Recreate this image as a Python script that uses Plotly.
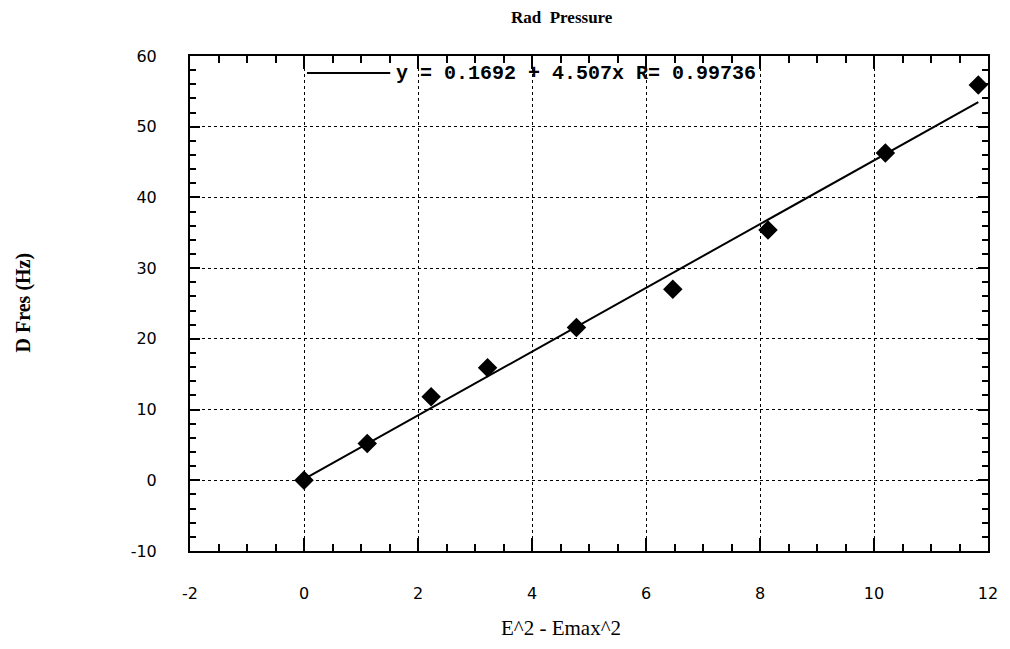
import plotly.graph_objects as go

x_vals = [0.0, 1.11, 2.23, 3.22, 4.78, 6.47, 8.14, 10.2, 11.83]
y_vals = [0.0, 5.2, 11.8, 15.9, 21.6, 27.0, 35.4, 46.3, 55.9]
intercept = 0.1692
slope = 4.507
r_value = 0.99736

x_tick_vals = [-2, 0, 2, 4, 6, 8, 10, 12]
x_tick_text = ["-2", "0", "2", "4", "6", "8", "10", "12"]
y_tick_vals = [-10, 0, 10, 20, 30, 40, 50, 60]
y_tick_text = ["-10", "0", "10", "20", "30", "40", "50", "60"]

fit_x = [min(x_vals), max(x_vals)]
fit_y = [intercept + slope * v for v in fit_x]

fig = go.Figure()
fig.add_trace(go.Scatter(x=fit_x, y=fit_y, mode="lines",
                         line=dict(color="black", width=2), showlegend=False))
fig.add_trace(go.Scatter(x=x_vals, y=y_vals, mode="markers",
                         marker=dict(symbol="diamond", size=15, color="black"),
                         showlegend=False))

axis_common = dict(
    showline=True, linecolor="black", linewidth=2, mirror="ticks",
    ticks="inside", tickcolor="black", tickwidth=2,
    showgrid=True, gridcolor="black", gridwidth=1, griddash="dot",
    zeroline=False,
    tickfont=dict(family="DejaVu Sans", size=16, color="black"),
)

fig.update_xaxes(range=[-2, 12], tickvals=x_tick_vals, ticktext=x_tick_text, ticklen=13,
                 minor=dict(dtick=0.5, ticks="inside", ticklen=7, tickcolor="black", tickwidth=2, showgrid=False),
                 ticklabelstandoff=27, **axis_common)
fig.update_yaxes(range=[-10, 60], tickvals=y_tick_vals, ticktext=y_tick_text, ticklen=10,
                 minor=dict(dtick=2, ticks="inside", ticklen=6, tickcolor="black", tickwidth=2, showgrid=False),
                 ticklabelstandoff=28, **axis_common)

eq_text = f"y = {intercept} + {slope}x R= {r_value}"

fig.update_layout(
    width=1010, height=649,
    margin=dict(l=190, r=15, t=56, b=98),
    paper_bgcolor="white", plot_bgcolor="white",
    showlegend=False,
    shapes=[dict(type="line", xref="paper", yref="paper",
                 x0=(308 - 190) / 805, x1=(392 - 190) / 805,
                 y0=(551 - 73) / 495, y1=(551 - 73) / 495,
                 line=dict(color="black", width=2))],
    annotations=[
        dict(text=f"<b>{eq_text}</b>", xref="paper", yref="paper",
             x=(396 - 190) / 805, y=(551 - 73) / 495, xanchor="left", yanchor="middle",
             showarrow=False, font=dict(family="Liberation Mono", size=20, color="black")),
        dict(text="<b>Rad  Pressure</b>", xref="paper", yref="paper",
             x=(565 - 190) / 805, y=1, yshift=39, xanchor="center", yanchor="middle",
             showarrow=False, font=dict(family="Liberation Serif", size=17, color="black")),
        dict(text="<b>D Fres (Hz)</b>", xref="paper", yref="paper",
             x=(22 - 190) / 805, y=(551 - 302) / 495, xanchor="center", yanchor="middle",
             textangle=-90, showarrow=False,
             font=dict(family="Liberation Serif", size=20, color="black")),
        dict(text="E^2 - Emax^2", xref="paper", yref="paper",
             x=(564 - 190) / 805, y=0, yshift=-77, xanchor="center", yanchor="middle",
             showarrow=False, font=dict(family="Liberation Serif", size=21, color="black")),
    ],
)

fig.write_html("out.html")
